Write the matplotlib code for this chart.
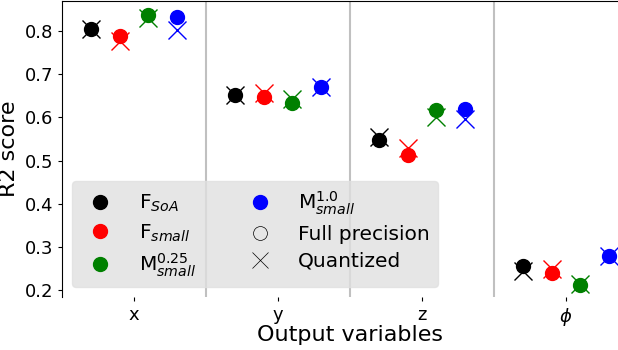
import numpy as np
import matplotlib
matplotlib.use('Agg')
import matplotlib.pyplot as plt
from matplotlib.lines import Line2D

# Datos (R2 por variable de salida)
variables = ['x', 'y', 'z', r'$\phi$']
modelos = ['F$_{SoA}$', 'F$_{small}$', 'M$^{0.25}_{small}$', 'M$^{1.0}_{small}$']
colores = ['black', 'red', 'green', 'blue']

full_prec = [
    [0.805, 0.652, 0.548, 0.257],   # F_SoA
    [0.789, 0.648, 0.513, 0.241],   # F_small
    [0.837, 0.632, 0.618, 0.213],   # M 0.25
    [0.832, 0.671, 0.620, 0.279],   # M 1.0
]
quantized = [
    [0.805, 0.652, 0.555, 0.245],
    [0.776, 0.657, 0.528, 0.250],
    [0.830, 0.643, 0.600, 0.214],
    [0.802, 0.671, 0.597, 0.279],
]

offsets = [-0.3, -0.1, 0.1, 0.3]

fig = plt.figure(figsize=(6.18, 3.5), dpi=100)
ax = fig.add_axes([0.1003, 0.151, 0.932, 0.846])

xpos = np.arange(len(variables))
for i in range(len(modelos)):
    ax.plot(xpos + offsets[i], full_prec[i], 'o', color=colores[i], markersize=10, zorder=3)
    ax.plot(xpos + offsets[i], quantized[i], 'x', color=colores[i], markersize=13,
            markeredgewidth=1.0, zorder=4)

# separadores entre variables
for s in [0.5, 1.5, 2.5]:
    ax.axvline(s, color='#c0c0c0', linewidth=1.5, zorder=1)

ax.set_xlim(-0.5, 3.5)
ax.set_ylim(0.184, 0.869)
ax.set_xticks(xpos)
ax.set_xticklabels(variables)
ax.set_yticks([0.2, 0.3, 0.4, 0.5, 0.6, 0.7, 0.8])
ax.tick_params(labelsize=13, length=3)
ax.spines['bottom'].set_visible(False)
ax.set_xlabel('Output variables', fontsize=16, labelpad=-2)
ax.set_ylabel('R2 score', fontsize=16, labelpad=4)

handles = [Line2D([], [], linestyle='none', marker='o', color=c, markersize=10) for c in colores]
handles.append(Line2D([], [], linestyle='none', marker='o', markerfacecolor='none',
                      markeredgecolor='black', markeredgewidth=0.5, markersize=10))
handles.append(Line2D([], [], linestyle='none', marker='x', color='black',
                      markeredgewidth=0.5, markersize=12))
labels = modelos + ['Full precision', 'Quantized']
leg = ax.legend(handles, labels, loc='lower left', ncol=2, fontsize=14.5,
                facecolor='#e0e0e0', edgecolor='#e0e0e0', framealpha=0.8,
                columnspacing=2.2, handletextpad=0.9, labelspacing=0.4)

plt.savefig('out.png', dpi=100)
plt.close()
